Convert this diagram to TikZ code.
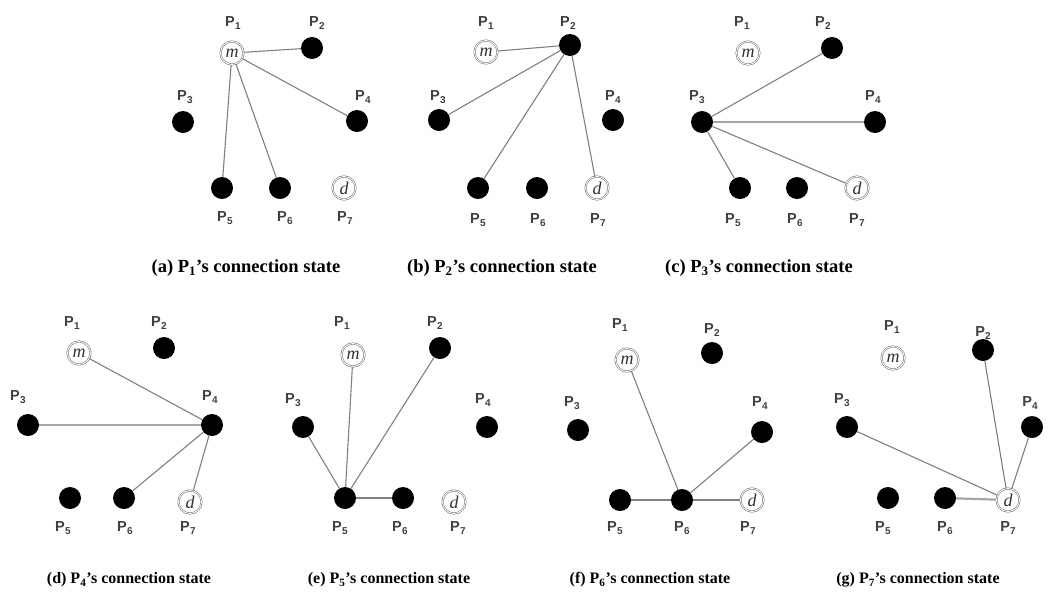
\documentclass[tikz,border=0pt]{standalone}
\usepackage{fontspec}
\setmainfont{Liberation Serif}
\setsansfont{Liberation Sans}
\newcommand\Pn[1]{P\kern0.3pt\raisebox{-0.5ex}{\fontsize{10}{10}\selectfont #1}}
\newcommand\capt[2]{\textbf{(#1) P\textsubscript{#2}’s connection state}}
\tikzset{
  dot/.style={circle, fill=black, minimum size=22pt, inner sep=0pt},
  ring/.style={circle, draw=black!55, double=white, double distance=0.9pt,
    line width=0.55pt, minimum size=23pt, inner sep=0pt,
    font=\fontsize{18}{18}\selectfont\itshape, text=black!80},
  plab/.style={font=\sffamily\bfseries\fontsize{14.5}{14.5}\selectfont, text=black!75, inner sep=0pt},
  link/.style={draw=black!50, line width=1.1pt},
  wide/.style={draw=black!35, line width=2.2pt},
  capnode/.style={font=\fontsize{18.5}{18.5}\selectfont, inner sep=0pt},
  capnodeb/.style={font=\fontsize{16}{16}\selectfont, inner sep=0pt}
}
\begin{document}
\begin{tikzpicture}[x=1pt,y=-1pt]
\useasboundingbox (0,0) rectangle (1056,598);
\fill[white] (0,0) rectangle (1056,598);

% ---------- (a) ----------
\node[ring] (a1) at (232,53) {m};
\node[dot]  (a2) at (312,48) {};
\node[dot]  (a3) at (183,122) {};
\node[dot]  (a4) at (357,121) {};
\node[dot]  (a5) at (222,188) {};
\node[dot]  (a6) at (280,188) {};
\node[ring] (a7) at (344,188) {d};
\node[plab] at (233,23) {\Pn1};
\node[plab] at (317,23) {\Pn2};
\node[plab] at (185,97) {\Pn3};
\node[plab] at (363,97) {\Pn4};
\node[plab] at (225,218) {\Pn5};
\node[plab] at (285,218) {\Pn6};
\node[plab] at (345,218) {\Pn7};
\draw[link] (a1) -- (a2);
\draw[link] (a1) -- (a4);
\draw[link] (a1) -- (a5);
\draw[link] (a1) -- (a6);
\node[capnode] (capa) at (246,268) {\capt{a}{1}};

% ---------- (b) ----------
\node[ring] (b1) at (486,52) {m};
\node[dot]  (b2) at (570,45) {};
\node[dot]  (b3) at (439,120) {};
\node[dot]  (b4) at (613,120) {};
\node[dot]  (b5) at (478,188) {};
\node[dot]  (b6) at (537,188) {};
\node[ring] (b7) at (597,188) {d};
\node[plab] at (486,23) {\Pn1};
\node[plab] at (568,23) {\Pn2};
\node[plab] at (438,97) {\Pn3};
\node[plab] at (613,97) {\Pn4};
\node[plab] at (478,220) {\Pn5};
\node[plab] at (538,220) {\Pn6};
\node[plab] at (598,220) {\Pn7};
\draw[link] (b2) -- (b1);
\draw[link] (b2) -- (b3);
\draw[link] (b2) -- (b5);
\draw[link] (b2) -- (b7);
\node[capnode] (capb) at (502,268) {\capt{b}{2}};

% ---------- (c) ----------
\node[ring] (c1) at (748,53) {m};
\node[dot]  (c2) at (832,48) {};
\node[dot]  (c3) at (702,122) {};
\node[dot]  (c4) at (875,122) {};
\node[dot]  (c5) at (740,188) {};
\node[dot]  (c6) at (797,188) {};
\node[ring] (c7) at (857,188) {d};
\node[plab] at (742,23) {\Pn1};
\node[plab] at (823,23) {\Pn2};
\node[plab] at (697,97) {\Pn3};
\node[plab] at (873,97) {\Pn4};
\node[plab] at (733,220) {\Pn5};
\node[plab] at (795,220) {\Pn6};
\node[plab] at (857,220) {\Pn7};
\draw[link] (c3) -- (c2);
\draw[wide] (c3) -- (c4);
\draw[link] (c3) -- (c5);
\draw[link] (c3) -- (c7);
\node[capnode] (capc) at (759,268) {\capt{c}{3}};

% ---------- (d) ----------
\node[ring] (d1) at (79,353) {m};
\node[dot]  (d2) at (164,348) {};
\node[dot]  (d3) at (28,425) {};
\node[dot]  (d4) at (212,425) {};
\node[dot]  (d5) at (70,498) {};
\node[dot]  (d6) at (124,498) {};
\node[ring] (d7) at (190,502) {d};
\node[plab] at (72,323) {\Pn1};
\node[plab] at (159,323) {\Pn2};
\node[plab] at (18,397) {\Pn3};
\node[plab] at (210,397) {\Pn4};
\node[plab] at (63,528) {\Pn5};
\node[plab] at (125,528) {\Pn6};
\node[plab] at (188,528) {\Pn7};
\draw[link] (d4) -- (d1);
\draw[wide] (d4) -- (d3);
\draw[link] (d4) -- (d6);
\draw[link] (d4) -- (d7);
\node[capnodeb] (capd) at (129,580) {\capt{d}{4}};

% ---------- (e) ----------
\node[ring] (e1) at (353,355) {m};
\node[dot]  (e2) at (440,348) {};
\node[dot]  (e3) at (303,427) {};
\node[dot]  (e4) at (487,427) {};
\node[dot]  (e5) at (345,498) {};
\node[dot]  (e6) at (403,498) {};
\node[ring] (e7) at (454,502) {d};
\node[plab] at (342,323) {\Pn1};
\node[plab] at (435,323) {\Pn2};
\node[plab] at (293,400) {\Pn3};
\node[plab] at (483,400) {\Pn4};
\node[plab] at (340,528) {\Pn5};
\node[plab] at (400,528) {\Pn6};
\node[plab] at (458,528) {\Pn7};
\draw[link] (e5) -- (e1);
\draw[link] (e5) -- (e2);
\draw[link] (e5) -- (e3);
\draw[link] (e5) -- (e6);
\node[capnodeb] (cape) at (389,580) {\capt{e}{5}};

% ---------- (f) ----------
\node[ring] (f1) at (627,360) {m};
\node[dot]  (f2) at (712,353) {};
\node[dot]  (f3) at (578,430) {};
\node[dot]  (f4) at (762,432) {};
\node[dot]  (f5) at (620,500) {};
\node[dot]  (f6) at (682,500) {};
\node[ring] (f7) at (752,500) {d};
\node[plab] at (620,325) {\Pn1};
\node[plab] at (712,330) {\Pn2};
\node[plab] at (572,403) {\Pn3};
\node[plab] at (760,403) {\Pn4};
\node[plab] at (615,528) {\Pn5};
\node[plab] at (682,528) {\Pn6};
\node[plab] at (748,528) {\Pn7};
\draw[link] (f6) -- (f1);
\draw[link] (f6) -- (f4);
\draw[link] (f6) -- (f5);
\draw[link] (f6) -- (f7);
\node[capnodeb] (capf) at (650,580) {\capt{f}{6}};

% ---------- (g) ----------
\node[ring] (g1) at (893,358) {m};
\node[dot]  (g2) at (983,350) {};
\node[dot]  (g3) at (847,427) {};
\node[dot]  (g4) at (1032,427) {};
\node[dot]  (g5) at (888,498) {};
\node[dot]  (g6) at (945,498) {};
\node[ring] (g7) at (1008,500) {d};
\node[plab] at (892,327) {\Pn1};
\node[plab] at (983,333) {\Pn2};
\node[plab] at (842,400) {\Pn3};
\node[plab] at (1030,403) {\Pn4};
\node[plab] at (883,528) {\Pn5};
\node[plab] at (945,528) {\Pn6};
\node[plab] at (1008,528) {\Pn7};
\draw[link] (g7) -- (g2);
\draw[link] (g7) -- (g3);
\draw[link] (g7) -- (g4);
\draw[wide] (g7) -- (g6);
\node[capnodeb] (capg) at (918,580) {\capt{g}{7}};
\end{tikzpicture}
\end{document}
